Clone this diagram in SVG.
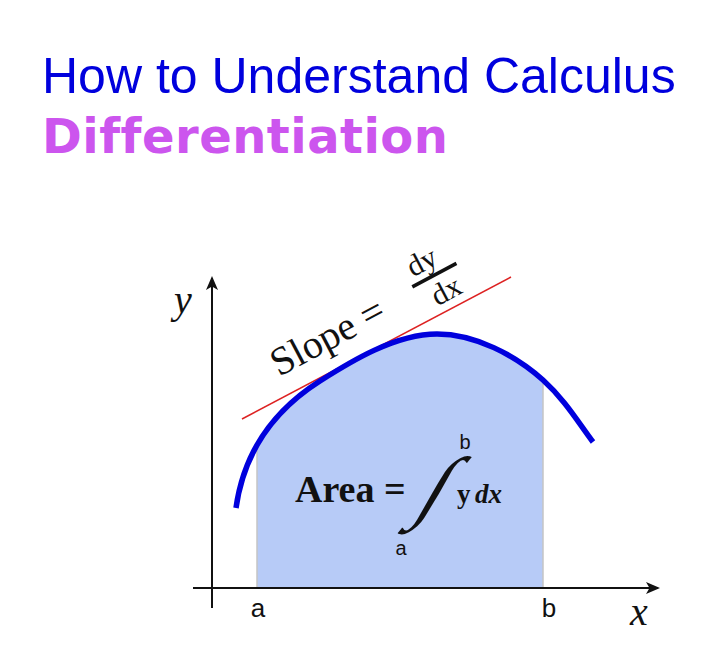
<svg xmlns="http://www.w3.org/2000/svg" width="718" height="656" viewBox="0 0 718 656">
<style>
.title{font-family:"Liberation Sans",Arial,sans-serif;font-size:50px;fill:#0000dd}
.sub{font-family:"DejaVu Sans",Verdana,sans-serif;font-weight:bold;font-size:48px;fill:#cc55ee;font-variant-ligatures:none}
.ser{font-family:"Liberation Serif","Times New Roman",serif;fill:#111}
.lab{font-family:"Liberation Sans",Arial,sans-serif;fill:#111}
.axis{stroke:#111;stroke-width:2;fill:none}
</style>
<defs>
<marker id="arr" viewBox="0 0 14 12" refX="12" refY="6" markerWidth="14" markerHeight="12" markerUnits="userSpaceOnUse" orient="auto">
<path d="M0,0 L14,6 L0,12 L3.5,6 Z" fill="#111"/>
</marker>
<path id="curve" d="M236,508 C243,458 268,414 320,381 C350,362 395,334 437,334 C475,334 515,355 543,380 C565,400 578,422 593,442"/>
<clipPath id="band"><rect x="257" y="0" width="286" height="588"/></clipPath>
</defs>
<text class="title" x="42" y="93">How to Understand Calculus</text>
<text class="sub" x="42" y="153" textLength="406" lengthAdjust="spacing">Differentiation</text>
<g id="area">
<path d="M236,508 C243,458 268,414 320,381 C350,362 395,334 437,334 C475,334 515,355 543,380 C565,400 578,422 593,442 L593,588 L236,588 Z" fill="#b7cbf7" clip-path="url(#band)"/>
<line x1="257" y1="450" x2="257" y2="588" stroke="#c4c4c4" stroke-width="1.5"/>
<line x1="543" y1="380" x2="543" y2="588" stroke="#c4c4c4" stroke-width="1.5"/>
</g>
<g id="connectors">
<line class="axis" x1="212" y1="608" x2="212" y2="278" marker-end="url(#arr)"/>
<line class="axis" x1="193" y1="588" x2="658" y2="588" marker-end="url(#arr)"/>
<line x1="242" y1="419" x2="511" y2="277" stroke="#dd2222" stroke-width="1.5"/>
</g>
<use href="#curve" fill="none" stroke="#0000dd" stroke-width="5.5"/>
<g id="slope" transform="translate(279,377) rotate(-28)">
<text class="ser" x="0" y="0" font-size="40">Slope =</text>
<text class="ser" x="180" y="-25" font-size="30" text-anchor="middle">dy</text>
<line x1="160" y1="-17" x2="210" y2="-17" stroke="#111" stroke-width="3.5"/>
<text class="ser" x="188" y="12" font-size="30" text-anchor="middle">dx</text>
</g>
<g id="areaformula">
<text class="ser" x="295" y="502" font-size="38" font-weight="bold">Area =</text>
<g transform="translate(436,493) skewX(-30)">
<text class="ser" x="0" y="20" font-size="80" font-weight="bold" text-anchor="middle">∫</text>
</g>
<text class="lab" x="465" y="449" font-size="20" text-anchor="middle">b</text>
<text class="lab" x="401" y="555" font-size="20" text-anchor="middle">a</text>
<text class="ser" x="457" y="503" font-size="27" font-weight="bold">y</text>
<text class="ser" x="475" y="503" font-size="27" font-weight="bold" font-style="italic">dx</text>
</g>
<g id="labels">
<text class="ser" x="183" y="313" font-size="40" font-style="italic" text-anchor="middle">y</text>
<text class="ser" x="639" y="625" font-size="40" font-style="italic" text-anchor="middle">x</text>
<text class="lab" x="258" y="617" font-size="26" text-anchor="middle">a</text>
<text class="lab" x="549" y="617" font-size="26" text-anchor="middle">b</text>
</g>
</svg>
